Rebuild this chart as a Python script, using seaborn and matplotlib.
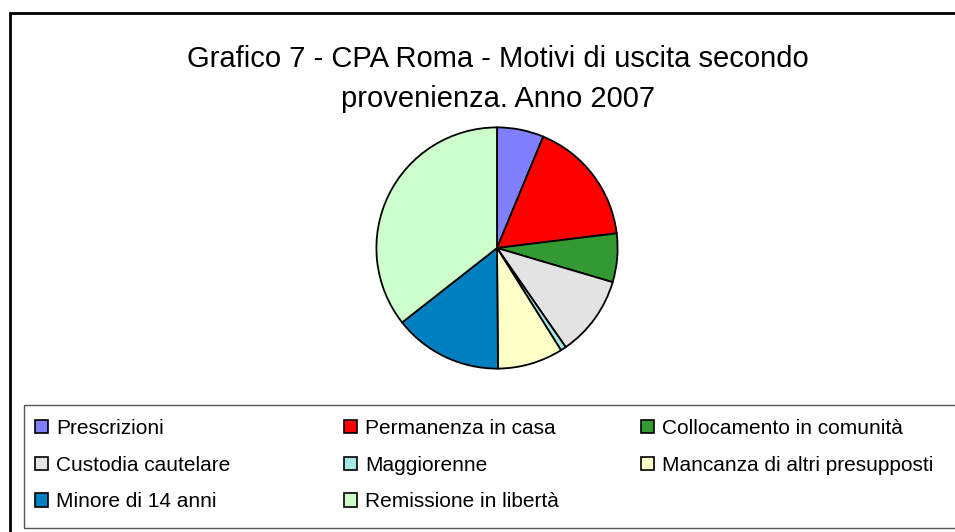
import matplotlib
matplotlib.use("Agg")
import matplotlib.pyplot as plt
import seaborn as sns
from matplotlib.patches import Rectangle, Patch

# data (counts, clockwise from 12 o'clock)
labels = [
    "Prescrizioni",
    "Permanenza in casa",
    "Collocamento in comunità",
    "Custodia cautelare",
    "Maggiorenne",
    "Mancanza di altri presupposti",
    "Minore di 14 anni",
    "Remissione in libertà",
]
values = [25, 67, 26, 43, 3, 35, 58, 142]
colors = ["#8080FF", "#FF0000", "#339933", "#E3E3E3",
          "#A6E6E6", "#FFFFC8", "#0080C0", "#CCFFCC"]

title_1 = "Grafico 7 - CPA Roma - Motivi di uscita secondo"
title_2 = "provenienza. Anno 2007"

sns.set_theme(style="white")
plt.rcParams['font.family'] = ['Liberation Sans Narrow', 'Liberation Sans', 'DejaVu Sans']

W, H = 955, 532
fig = plt.figure(figsize=(W / 100, H / 100), dpi=100)
fig.patch.set_facecolor("white")

def fx(px):
    return px / W

def fy(py):
    return 1 - py / H

# outer chart frame (runs off the right and bottom edge)
fig.patches.append(Rectangle((fx(10), fy(545)), fx(960), (545 - 13) / H, transform=fig.transFigure,
                             fill=False, edgecolor="black", linewidth=2))
# legend box
fig.patches.append(Rectangle((fx(24), fy(528)), fx(960), (528 - 405) / H, transform=fig.transFigure,
                             fill=False, edgecolor="#555555", linewidth=1))

# pie
cx, cy, r = 497, 248, 123
ax = fig.add_axes([fx(cx - r), fy(cy + r), fx(2 * r), 2 * r / H])
ax.pie(values, colors=colors, startangle=90, counterclock=False, radius=1,
       wedgeprops=dict(edgecolor="black", linewidth=1.3))
ax.set_xlim(-1.02, 1.02)
ax.set_ylim(-1.02, 1.02)
ax.set_aspect("equal")
ax.axis("off")

fig.text(fx(498), fy(67), title_1, ha="center", va="baseline", fontsize=21, color="black")
fig.text(fx(498), fy(107), title_2, ha="center", va="baseline", fontsize=21, color="black")

# legend, three columns as in the original (row-wise order)
handles = [Patch(facecolor=c, edgecolor="black", linewidth=1.2) for c in colors]
col_x = [35, 344, 641]
for col in range(3):
    idx = list(range(col, len(labels), 3))
    fig.legend([handles[i] for i in idx], [labels[i] for i in idx],
               loc="upper left", bbox_to_anchor=(fx(col_x[col]), fy(419)),
               frameon=False, fontsize=15, labelcolor="black",
               handlelength=0.63, handleheight=0.63,
               handletextpad=0.38, labelspacing=0.85, borderpad=0, borderaxespad=0)

plt.savefig("out.png", dpi=100)
plt.close()
